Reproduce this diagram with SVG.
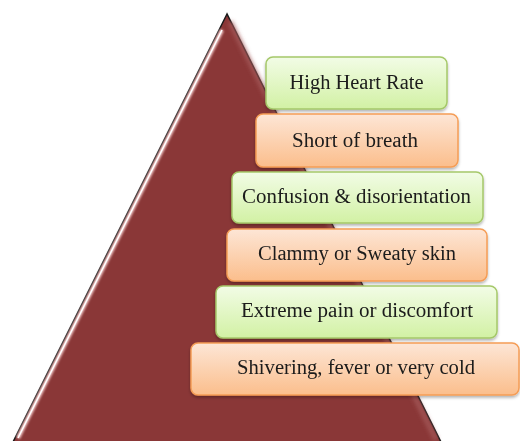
<svg xmlns="http://www.w3.org/2000/svg" width="520" height="441" viewBox="0 0 520 441">
<defs>
<linearGradient id="gGreen" x1="0" y1="0" x2="0" y2="1">
<stop offset="0" stop-color="#f2fce6"/>
<stop offset="1" stop-color="#d2f1a4"/>
</linearGradient>
<linearGradient id="gOrange" x1="0" y1="0" x2="0" y2="1">
<stop offset="0" stop-color="#fde6d6"/>
<stop offset="1" stop-color="#fbbe8c"/>
</linearGradient>
<filter id="shadow" x="-5%" y="-20%" width="110%" height="150%">
<feDropShadow dx="0" dy="2" stdDeviation="1.5" flood-color="#000" flood-opacity="0.3"/>
</filter>
<filter id="blur" x="-10%" y="-10%" width="120%" height="120%">
<feGaussianBlur stdDeviation="1"/>
</filter>
<filter id="blur2" x="-10%" y="-10%" width="120%" height="120%">
<feGaussianBlur stdDeviation="2"/>
</filter>
</defs>
<style>
.green{fill:url(#gGreen);stroke:#a5c869;stroke-width:1.5}
.orange{fill:url(#gOrange);stroke:#f59d56;stroke-width:1.5}
.lbl{font-family:"Liberation Serif","Times New Roman",serif;font-size:20px;fill:#1a1a1a;text-anchor:middle}
</style>
<g id="pyramid">
<polygon points="227,14 11,446 443,446" fill="#8a3737" stroke="#1a1a1a" stroke-width="1.5"/>
<polyline points="230,22 436,440" fill="none" stroke="#a35858" stroke-width="4" filter="url(#blur2)"/>
<polyline points="222,30 18,438" fill="none" stroke="#f1c9c9" stroke-width="4" filter="url(#blur)"/>
<polyline points="222,30 18,438" fill="none" stroke="#ffffff" stroke-width="1.5"/>
</g>
<g id="connectors"></g>
<g id="n1" filter="url(#shadow)">
<rect class="green" x="266" y="57" width="181" height="52" rx="7"/>
<text class="lbl" x="356.5" y="89" textLength="134" lengthAdjust="spacingAndGlyphs">High Heart Rate</text>
</g>
<g id="n2" filter="url(#shadow)">
<rect class="orange" x="256" y="114" width="202" height="53" rx="7"/>
<text class="lbl" x="355" y="147" textLength="126" lengthAdjust="spacingAndGlyphs">Short of breath</text>
</g>
<g id="n3" filter="url(#shadow)">
<rect class="green" x="232" y="172" width="251" height="51" rx="7"/>
<text class="lbl" x="356.5" y="203" textLength="229" lengthAdjust="spacingAndGlyphs">Confusion &amp; disorientation</text>
</g>
<g id="n4" filter="url(#shadow)">
<rect class="orange" x="227" y="229" width="260" height="52" rx="7"/>
<text class="lbl" x="357" y="260" textLength="198" lengthAdjust="spacingAndGlyphs">Clammy or Sweaty skin</text>
</g>
<g id="n5" filter="url(#shadow)">
<rect class="green" x="216" y="286" width="281" height="52" rx="7"/>
<text class="lbl" x="357" y="317" textLength="232" lengthAdjust="spacingAndGlyphs">Extreme pain or discomfort</text>
</g>
<g id="n6" filter="url(#shadow)">
<rect class="orange" x="191" y="343" width="328" height="52" rx="7"/>
<text class="lbl" x="356" y="374" textLength="238" lengthAdjust="spacingAndGlyphs">Shivering, fever or very cold</text>
</g>
</svg>
